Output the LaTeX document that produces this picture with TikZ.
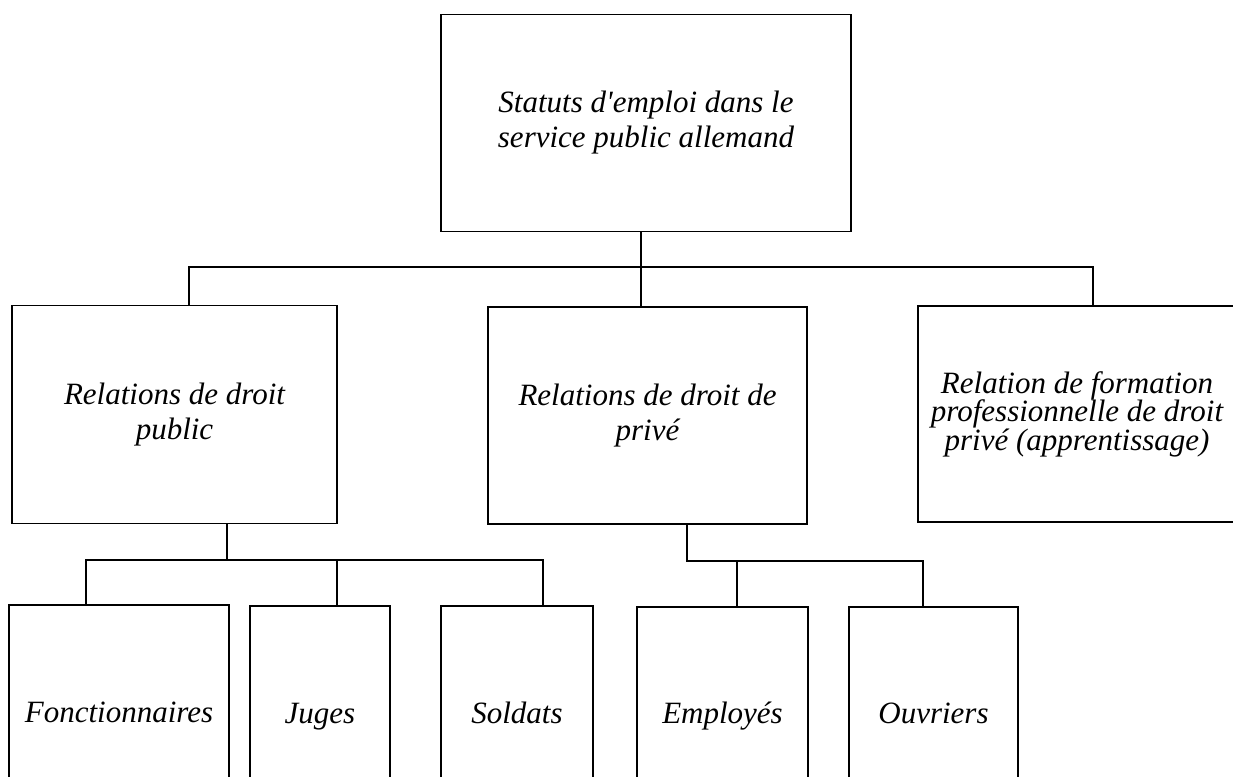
\documentclass[tikz,border=0pt]{standalone}
\usepackage{fontspec}
\newfontfamily\tnr{Liberation Serif}
\begin{document}
\begin{tikzpicture}[x=1pt,y=-1pt,
  box/.style={draw=black,line width=1.5pt,inner sep=0pt,align=center,
    font=\tnr\fontsize{31}{35}\selectfont\itshape},
  leaf/.style={box,text height=22pt,text depth=8pt},
  link/.style={draw=black,line width=1.5pt}]
\useasboundingbox (0,0) rectangle (1233,776);
\clip (0,0) rectangle (1233,776);
% level 0
\node[box,minimum width=410pt,minimum height=217pt] (top) at (646,123)
  {Statuts d'emploi dans le\\service public allemand};
% level 1
\node[box,minimum width=325pt,minimum height=218pt] (pub) at (174.5,414.5)
  {Relations de droit\\public};
\node[box,minimum width=319pt,minimum height=217pt] (priv) at (647.5,415.5)
  {Relations de droit de\\privé};
\node[box,minimum width=318pt,minimum height=216pt,
  font=\tnr\fontsize{31}{28.5}\selectfont\itshape] (form) at (1077,414)
  {Relation de formation\\professionnelle de droit\\privé (apprentissage)};
% level 2
\node[leaf,minimum width=220pt,minimum height=221pt] (fonc) at (119,715.5) {Fonctionnaires};
\node[leaf,minimum width=140pt,minimum height=220pt] (juges) at (320,716) {Juges};
\node[leaf,minimum width=152pt,minimum height=220pt] (sold) at (517,716) {Soldats};
\node[leaf,minimum width=171pt,minimum height=219pt] (empl) at (722.5,716.5) {Employés};
\node[leaf,minimum width=169pt,minimum height=219pt] (ouvr) at (933.5,716.5) {Ouvriers};
% junction points
\coordinate (s1) at (189,267);
\coordinate (s2) at (641,267);
\coordinate (s3) at (1093,267);
\coordinate (t1) at (227,560);
\coordinate (l1) at (86,560);
\coordinate (l2) at (337,560);
\coordinate (l3) at (543,560);
\coordinate (r0) at (687,561);
\coordinate (r1) at (737,561);
\coordinate (r2) at (923,561);
% connectors
\draw[link] (s2 |- top.south) -- (s2 |- priv.north);
\draw[link] (s1 |- pub.north) -- (s1) -- (s3) -- (s3 |- form.north);
\draw[link] (t1 |- pub.south) -- (t1);
\draw[link] (l1 |- fonc.north) -- (l1) -- (l3) -- (l3 |- sold.north);
\draw[link] (l2) -- (l2 |- juges.north);
\draw[link] (r0 |- priv.south) -- (r0) -- (r2) -- (r2 |- ouvr.north);
\draw[link] (r1) -- (r1 |- empl.north);
\end{tikzpicture}
\end{document}
